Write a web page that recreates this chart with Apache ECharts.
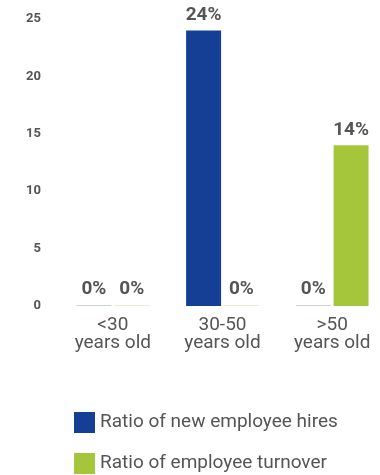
<!DOCTYPE html>
<html>
<head>
<meta charset="utf-8">
<script src="https://cdn.jsdelivr.net/npm/echarts@6/dist/echarts.min.js"></script>
<style>html,body{margin:0;padding:0;background:#fff;overflow:hidden}#c{width:392px;height:475px}</style>
</head>
<body>
<div id="c"></div>
<script>
var categories = ['<30\nyears old', '30-50\nyears old', '>50\nyears old'];
var hiresValues = [0, 24, 0];
var turnoverValues = [0, 0, 14];
var yTicks = [0, 5, 10, 15, 20, 25];
var seriesNames = ['Ratio of new employee hires', 'Ratio of employee turnover'];

var blue = '#143f94', green = '#a5c63a';
function items(vals, zeroColor) {
  return vals.map(function (v) {
    return v === 0 ? { value: v, itemStyle: { color: zeroColor } } : v;
  });
}
var labelStyle = { show: true, position: 'top', distance: 6, formatter: '{c}%', color: '#555', fontSize: 19, fontWeight: 'bold', fontFamily: 'Roboto' };
var legendText = { color: '#555', fontSize: 19, fontFamily: 'Roboto' };
var chart = echarts.init(document.getElementById('c'));
chart.setOption({
  animation: false,
  textStyle: { fontFamily: 'Roboto' },
  grid: { left: 58, right: 5, top: 19, bottom: 169, containLabel: false },
  xAxis: {
    type: 'category', data: categories,
    axisLine: { show: false }, axisTick: { show: false },
    axisLabel: { color: '#555', fontSize: 19, lineHeight: 18, margin: 10, fontFamily: 'Roboto' }
  },
  yAxis: {
    type: 'value', min: yTicks[0], max: yTicks[yTicks.length - 1], interval: 5,
    axisLine: { show: false }, axisTick: { show: false }, splitLine: { show: false },
    axisLabel: { color: '#555', fontSize: 13, fontWeight: 'bold', margin: 17, fontFamily: 'Roboto' }
  },
  legend: [
    { left: 69, top: 407, itemWidth: 21, itemHeight: 21, icon: 'rect', textStyle: legendText, data: [seriesNames[0]] },
    { left: 69, top: 448, itemWidth: 21, itemHeight: 21, itemGap: 10, icon: 'rect', textStyle: legendText, data: [seriesNames[1]] }
  ],
  series: [
    {
      name: seriesNames[0], type: 'bar', data: items(hiresValues, '#c9d1e1'),
      itemStyle: { color: blue }, barWidth: 35, barGap: '8%', barMinHeight: 1,
      label: labelStyle
    },
    {
      name: seriesNames[1], type: 'bar', data: items(turnoverValues, '#e9edd3'),
      itemStyle: { color: green }, barWidth: 35, barMinHeight: 1,
      label: labelStyle
    }
  ]
});
</script>
</body>
</html>
